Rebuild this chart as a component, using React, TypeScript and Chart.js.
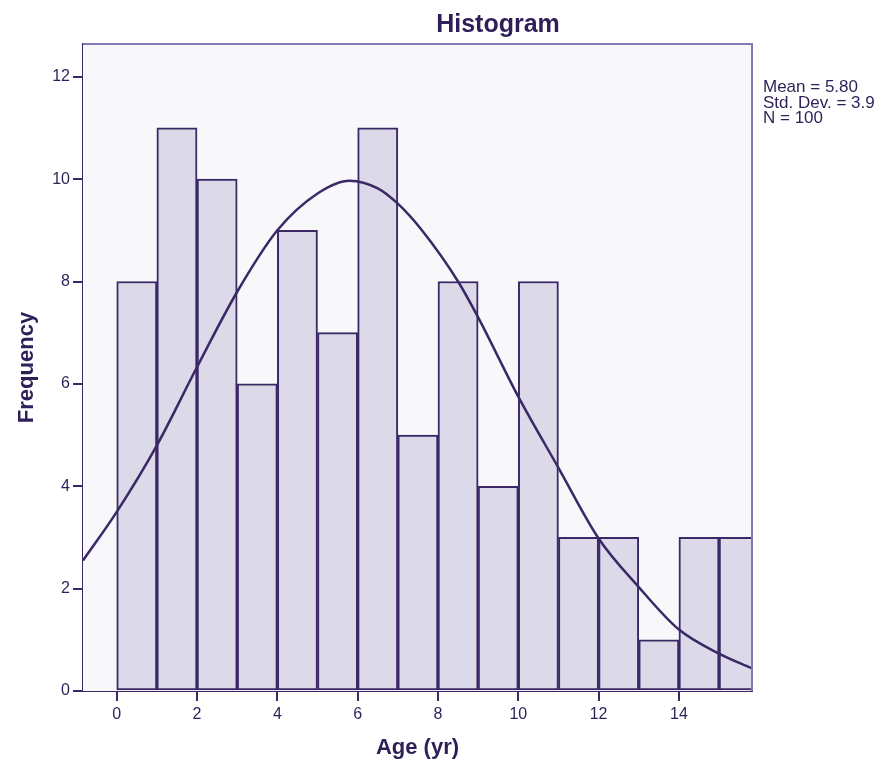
import React, { useEffect, useRef } from "react";
import { Chart, registerables } from "chart.js";

Chart.register(...registerables);

// ---- data ----
const binCenters = [0.5, 1.5, 2.5, 3.5, 4.5, 5.5, 6.5, 7.5, 8.5, 9.5, 10.5, 11.5, 12.5, 13.5, 14.5, 15.5];
const frequencies = [8, 11, 10, 6, 9, 7, 11, 5, 8, 4, 8, 3, 3, 1, 3, 3];
const curveX = [-0.84, 0, 1, 2, 3, 4, 5, 5.8, 6.5, 7, 7.6, 8.5, 9, 10, 11, 12, 13, 14, 15, 15.82];
const curveY = [2.55, 3.5, 4.8, 6.33, 7.8, 9.0, 9.72, 9.97, 9.82, 9.52, 9.0, 8.0, 7.3, 5.75, 4.36, 2.98, 2.03, 1.2, 0.73, 0.44];
const xTicks = [0, 2, 4, 6, 8, 10, 12, 14];
const yTicks = [0, 2, 4, 6, 8, 10, 12];
const titleText = "Histogram";
const xTitle = "Age (yr)";
const yTitle = "Frequency";
const statsLines = ["Mean = 5.80", "Std. Dev. = 3.9", "N = 100"];

const DARK = "#3a2867";
const TEXT = "#2e1f58";
const FRAME_LIGHT = "#8577b3";
const BAR_FILL = "#dcd9e8";
const PLOT_BG = "#f8f8fb";
const FONT = "'Liberation Sans', Arial, sans-serif";

const decorPlugin = {
  id: "decor",
  beforeDatasetsDraw(chart: any) {
    const { ctx, chartArea: a } = chart;
    ctx.save();
    ctx.fillStyle = PLOT_BG;
    ctx.fillRect(a.left, a.top, a.right - a.left, a.bottom - a.top);
    ctx.restore();
  },
  afterDraw(chart: any) {
    const { ctx, chartArea: a } = chart;
    ctx.save();
    ctx.strokeStyle = FRAME_LIGHT;
    ctx.lineWidth = 2;
    ctx.beginPath();
    ctx.moveTo(a.left, a.top);
    ctx.lineTo(a.right, a.top);
    ctx.lineTo(a.right, a.bottom);
    ctx.stroke();
    ctx.fillStyle = TEXT;
    ctx.font = `bold 25px ${FONT}`;
    ctx.textAlign = "center";
    ctx.textBaseline = "alphabetic";
    ctx.fillText(titleText, 498, 32);
    ctx.font = `17px ${FONT}`;
    ctx.textAlign = "left";
    statsLines.forEach((s, i) => ctx.fillText(s, 763, 92 + i * 15.5));
    ctx.restore();
  },
};

export default function App() {
  const ref = useRef<HTMLCanvasElement | null>(null);
  useEffect(() => {
    if (!ref.current) return;
    const chart = new Chart(ref.current, {
      type: "bar",
      data: {
        datasets: [
          {
            type: "line",
            data: curveX.map((x, i) => ({ x, y: curveY[i] })),
            borderColor: DARK,
            borderWidth: 2.5,
            pointRadius: 0,
            cubicInterpolationMode: "monotone",
            fill: false,
            order: 0,
          } as any,
          {
            type: "bar",
            data: binCenters.map((x, i) => ({ x, y: frequencies[i] })),
            backgroundColor: BAR_FILL,
            borderColor: DARK,
            borderWidth: 2,
            borderSkipped: false,
            barPercentage: 1,
            categoryPercentage: 1,
            grouped: false,
            order: 1,
          } as any,
        ],
      },
      options: {
        animation: false,
        responsive: false,
        maintainAspectRatio: false,
        layout: { padding: { left: 0, right: 129, top: 44, bottom: 0 } },
        plugins: {
          legend: { display: false },
          tooltip: { enabled: false },
          title: { display: false },
        },
        scales: {
          x: {
            type: "linear",
            offset: false,
            min: -0.84,
            max: 15.82,
            afterBuildTicks: (s: any) => {
              s.ticks = xTicks.map((v) => ({ value: v }));
            },
            afterFit: (s: any) => {
              s.height = 74;
            },
            grid: {
              offset: false,
              drawOnChartArea: false,
              drawTicks: true,
              tickLength: 10,
              color: DARK,
              lineWidth: 2,
            },
            border: { display: true, color: DARK, width: 2 },
            ticks: {
              color: TEXT,
              font: { family: FONT, size: 16 },
              padding: 4,
              maxRotation: 0,
              autoSkip: false,
            },
            title: {
              display: true,
              text: xTitle,
              color: TEXT,
              font: { family: FONT, size: 22, weight: "bold" },
              padding: { top: 0, bottom: 4 },
            },
          },
          y: {
            type: "linear",
            min: 0,
            max: 12.64,
            afterBuildTicks: (s: any) => {
              s.ticks = yTicks.map((v) => ({ value: v }));
            },
            afterFit: (s: any) => {
              s.width = 83;
            },
            grid: {
              drawOnChartArea: false,
              drawTicks: true,
              tickLength: 10,
              color: DARK,
              lineWidth: 2,
            },
            border: { display: true, color: DARK, width: 2 },
            ticks: {
              color: TEXT,
              font: { family: FONT, size: 16 },
              padding: 3,
              autoSkip: false,
            },
            title: {
              display: true,
              text: yTitle,
              color: TEXT,
              font: { family: FONT, size: 22, weight: "bold" },
              padding: { top: 14, bottom: 0 },
            },
          },
        },
      } as any,
      plugins: [decorPlugin],
    });
    return () => chart.destroy();
  }, []);
  return (
    <div style={{ position: "absolute", left: 0, top: 0, width: 881, height: 765, background: "#fff" }}>
      <canvas ref={ref} width={881} height={765} style={{ width: 881, height: 765 }} />
    </div>
  );
}
